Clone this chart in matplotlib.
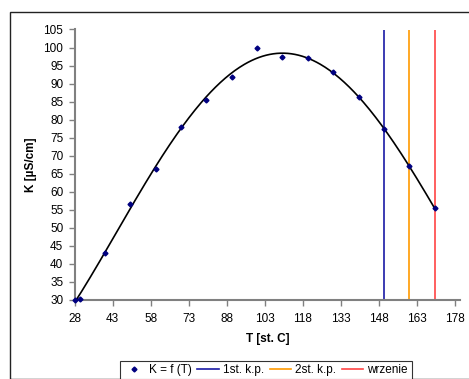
import numpy as np
import matplotlib
matplotlib.use("Agg")
import matplotlib.pyplot as plt
from matplotlib.patches import Rectangle
from matplotlib.lines import Line2D

plt.rcParams['font.family'] = ['Liberation Sans', 'DejaVu Sans']

T = [28, 30, 40, 50, 60, 70, 80, 90, 100, 110, 120, 130, 140, 150, 160, 170]
K = [30.1, 30.3, 43.1, 56.6, 66.4, 77.9, 85.5, 91.7, 99.8, 97.4, 97.0, 93.1, 86.3, 77.4, 67.1, 55.5]
x_ticks = [28, 43, 58, 73, 88, 103, 118, 133, 148, 163, 178]
y_ticks = [30, 35, 40, 45, 50, 55, 60, 65, 70, 75, 80, 85, 90, 95, 100, 105]
vlines = [150, 160, 170]
vline_labels = ["1st. k.p.", "2st. k.p.", "wrzenie"]
vline_colors = ["#1a1aa6", "#ff9900", "#ff4444"]
series_label = "K = f (T)"

W, H = 469, 379
fig = plt.figure(figsize=(W / 100, H / 100), dpi=100)
fig.patch.set_facecolor("white")

# outer chart border
fig.patches.append(Rectangle((9.5 / W, 0), 1, 1 - 11.7 / H, transform=fig.transFigure,
                             fill=False, edgecolor="#222222", linewidth=1.0))

ax = fig.add_axes([74.5 / W, (H - 300) / H, (460 - 74.5) / W, (300 - 29.5) / H])
ax.set_xlim(28, 180)
ax.set_ylim(30, 105)

# trend line (polynomial fit of the data)
coef = np.polyfit(T, K, 4)
xs = np.linspace(min(T), max(T), 300)
ax.plot(xs, np.polyval(coef, xs), color="black", linewidth=1.2, zorder=3)

ax.plot(T, K, linestyle="none", marker="D", markersize=2.5, color="#000080", zorder=4, clip_on=False)

for v, c in zip(vlines, vline_colors):
    ax.plot([v, v], [30, 105], color=c, linewidth=1.2, zorder=2)

ax.set_xticks(x_ticks)
ax.set_yticks(y_ticks)
ax.tick_params(axis="both", direction="out", length=4, width=1, color="#808080",
               labelsize=8.5, labelcolor="black")
ax.tick_params(axis="x", pad=5)
ax.tick_params(axis="y", pad=4)
for s in ["top", "right"]:
    ax.spines[s].set_visible(False)
for s in ["left", "bottom"]:
    ax.spines[s].set_color("#808080")
    ax.spines[s].set_linewidth(1.5)

ax.set_xlabel("T [st. C]", fontsize=8.5, fontweight="bold", labelpad=6)
ax.set_ylabel("K [µS/cm]", fontsize=8.5, fontweight="bold", labelpad=5)

handles = [Line2D([], [], linestyle="none", marker="D", markersize=2.5, color="#000080")]
handles += [Line2D([], [], color=c, linewidth=1.2) for c in vline_colors]
labels = [series_label] + vline_labels
leg = fig.legend(handles, labels, loc="upper center", bbox_to_anchor=(265.6 / W, 1 - 360.7 / H),
                 ncol=4, fontsize=8.5, frameon=True, fancybox=False, handlelength=1.8,
                 handletextpad=0.35, columnspacing=0.5, borderpad=0.3, borderaxespad=0)
leg.get_frame().set_edgecolor("black")
leg.get_frame().set_linewidth(0.8)

fig.savefig("out.png", dpi=100)
